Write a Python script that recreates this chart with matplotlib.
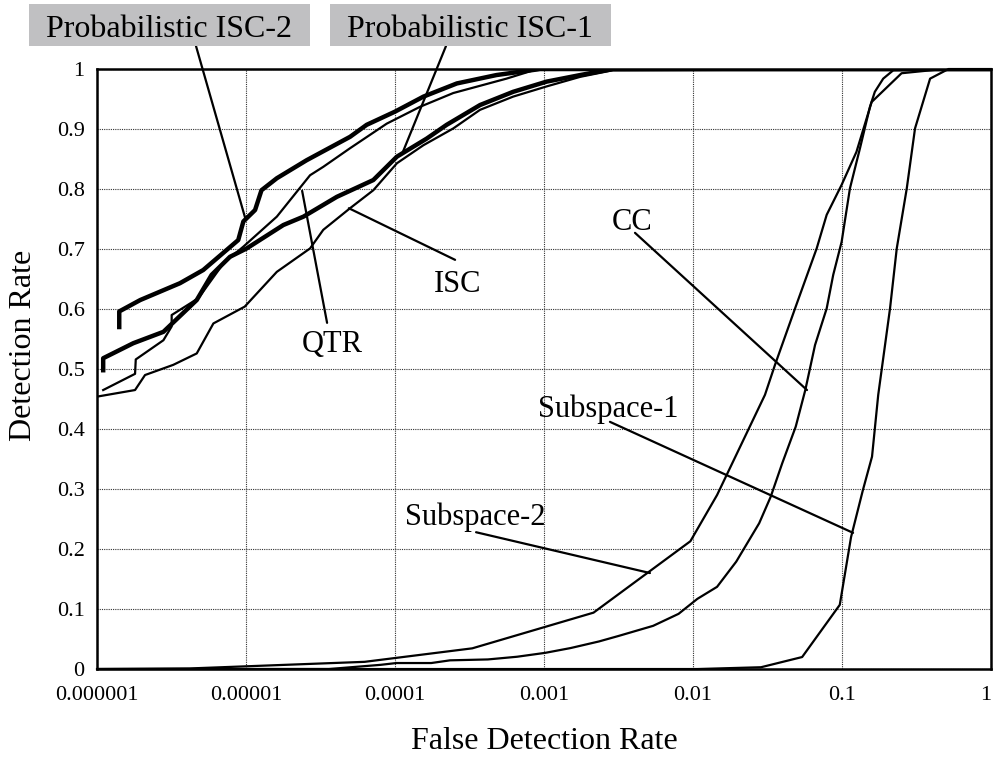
import matplotlib
matplotlib.use('Agg')
import matplotlib.pyplot as plt
from matplotlib.patches import Rectangle
from matplotlib.ticker import FixedLocator, FixedFormatter, NullLocator

plt.rcParams['font.family'] = ['Liberation Serif', 'DejaVu Serif']

# curves (false detection rate, detection rate)
prob_isc2_x = [1.41e-6, 1.41e-6, 1.95e-6, 3.6e-6, 5.16e-6, 8.87e-6, 9.6e-6, 1.15e-5, 1.27e-5,
               1.61e-5, 2.55e-5, 4.99e-5, 6.45e-5, 1.0e-4, 1.55e-4, 2.6e-4, 4.8e-4, 9.4e-4, 1.0]
prob_isc2_y = [0.570, 0.596, 0.615, 0.643, 0.665, 0.715, 0.746, 0.765, 0.798,
               0.818, 0.848, 0.887, 0.907, 0.929, 0.954, 0.976, 0.990, 1.0, 1.0]

qtr_x = [1.10e-6, 1.80e-6, 1.82e-6, 2.79e-6, 3.17e-6, 3.17e-6, 4.79e-6, 7.05e-6, 9.6e-6, 1.61e-5,
         2.69e-5, 3.30e-5, 4.99e-5, 8.8e-5, 1.47e-4, 2.46e-4, 5.6e-4, 8.5e-4, 1.15e-3, 1.0]
qtr_y = [0.465, 0.492, 0.516, 0.548, 0.571, 0.590, 0.618, 0.676, 0.704, 0.754,
         0.823, 0.837, 0.868, 0.909, 0.937, 0.960, 0.984, 0.998, 1.0, 1.0]

prob_isc1_x = [1.10e-6, 1.10e-6, 1.75e-6, 2.79e-6, 4.67e-6, 5.88e-6, 7.8e-6, 1.01e-5, 1.78e-5, 2.43e-5,
               4.07e-5, 7.15e-5, 1.03e-4, 1.63e-4, 2.22e-4, 3.72e-4, 6.2e-4, 1.04e-3, 1.75e-3, 2.9e-3, 1.0]
prob_isc1_y = [0.498, 0.518, 0.543, 0.562, 0.615, 0.657, 0.687, 0.701, 0.740, 0.754,
               0.787, 0.815, 0.854, 0.884, 0.907, 0.940, 0.962, 0.979, 0.990, 1.0, 1.0]

isc_x = [1.0e-6, 1.80e-6, 2.1e-6, 3.25e-6, 4.67e-6, 6.04e-6, 9.8e-6, 1.61e-5, 2.69e-5, 3.3e-5,
         4.99e-5, 7.15e-5, 1.03e-4, 1.55e-4, 2.46e-4, 3.72e-4, 6.2e-4, 1.04e-3, 1.75e-3, 2.9e-3, 1.0]
isc_y = [0.454, 0.465, 0.490, 0.507, 0.526, 0.576, 0.604, 0.662, 0.701, 0.732,
         0.768, 0.798, 0.843, 0.873, 0.901, 0.932, 0.954, 0.971, 0.987, 0.998, 1.0]

subspace2_x = [1e-6, 4.2e-6, 6.25e-5, 3.3e-4, 2.15e-3, 9.6e-3, 1.45e-2, 3.04e-2, 3.55e-2,
               4.84e-2, 6.76e-2, 7.89e-2, 9.94e-2, 0.125, 0.158, 0.251, 0.478, 1.0]
subspace2_y = [0.0, 0.001, 0.012, 0.0345, 0.094, 0.213, 0.29, 0.457, 0.507,
               0.601, 0.701, 0.757, 0.807, 0.862, 0.945, 0.993, 1.0, 1.0]

cc_x = [1e-6, 3.6e-5, 8e-5, 1.02e-4, 1.75e-4, 2.34e-4, 4.2e-4, 6.6e-4, 1.02e-3, 1.51e-3,
        2.34e-3, 3.15e-3, 5.4e-3, 8e-3, 1.07e-2, 1.45e-2, 1.95e-2, 2.78e-2, 3.32e-2, 3.97e-2,
        4.89e-2, 5.67e-2, 6.59e-2, 7.89e-2, 8.73e-2, 9.94e-2, 0.113, 0.132, 0.154, 0.166,
        0.189, 0.221, 1.0]
cc_y = [0.0, 0.0, 0.007, 0.010, 0.010, 0.0145, 0.016, 0.0205, 0.027, 0.035,
        0.046, 0.055, 0.072, 0.092, 0.117, 0.137, 0.179, 0.243, 0.287, 0.343,
        0.404, 0.465, 0.54, 0.601, 0.657, 0.712, 0.801, 0.868, 0.937, 0.962,
        0.984, 0.998, 1.0]

subspace1_x = [1e-6, 1.07e-2, 2.86e-2, 5.4e-2, 9.66e-2, 0.115, 0.138, 0.159, 0.175,
               0.21, 0.233, 0.272, 0.309, 0.39, 0.518, 1.0]
subspace1_y = [0.0, 0.0, 0.003, 0.020, 0.107, 0.22, 0.298, 0.354, 0.457,
               0.601, 0.701, 0.801, 0.901, 0.984, 1.0, 1.0]

x_ticks = [1e-6, 1e-5, 1e-4, 1e-3, 1e-2, 1e-1, 1]
x_tick_labels = ['0.000001', '0.00001', '0.0001', '0.001', '0.01', '0.1', '1']
y_ticks = [0, 0.1, 0.2, 0.3, 0.4, 0.5, 0.6, 0.7, 0.8, 0.9, 1]
y_tick_labels = ['0', '0.1', '0.2', '0.3', '0.4', '0.5', '0.6', '0.7', '0.8', '0.9', '1']

fig = plt.figure(figsize=(9.94, 7.62), dpi=100)
ax = fig.add_axes([0.0976, 0.1220, 0.8994, 0.7874])

thin = 1.6
thick = 3.2
ax.plot(isc_x, isc_y, color='black', lw=thin)
ax.plot(qtr_x, qtr_y, color='black', lw=thin)
ax.plot(prob_isc1_x, prob_isc1_y, color='black', lw=thick)
ax.plot(prob_isc2_x, prob_isc2_y, color='black', lw=thick)
ax.plot(subspace2_x, subspace2_y, color='black', lw=thin)
ax.plot(cc_x, cc_y, color='black', lw=thin)
ax.plot(subspace1_x, subspace1_y, color='black', lw=thin, clip_on=False)

ax.set_xscale('log')
ax.set_xlim(1e-6, 1)
ax.set_ylim(0, 1)
ax.xaxis.set_major_locator(FixedLocator(x_ticks))
ax.xaxis.set_major_formatter(FixedFormatter(x_tick_labels))
ax.xaxis.set_minor_locator(NullLocator())
ax.yaxis.set_major_locator(FixedLocator(y_ticks))
ax.yaxis.set_major_formatter(FixedFormatter(y_tick_labels))
ax.tick_params(length=0, labelsize=16)
ax.tick_params(axis='x', pad=12)
ax.tick_params(axis='y', pad=9)
# last label sits at the figure edge
ax.get_xticklabels()[-1].set_horizontalalignment('right')
ax.grid(True, color='#333333', lw=0.8, linestyle=(0, (1, 1)))
for s in ax.spines.values():
    s.set_linewidth(1.8)

ax.set_xlabel('False Detection Rate', fontsize=23, labelpad=16)
ax.set_ylabel('Detection Rate', fontsize=23)
ax.yaxis.set_label_coords(-0.066, 0.54)

# labels with pointer lines
lab = dict(fontsize=22, ha='center', va='baseline')
line = dict(arrowstyle='-', lw=1.6, color='black', shrinkA=0, shrinkB=0)

ax.text(3.9e-3, 0.732, 'CC', **lab)
ax.annotate('', xy=(0.0582, 0.465), xytext=(4.08e-3, 0.727), arrowprops=line)

ax.text(2.69e-3, 0.42, 'Subspace-1', **lab)
ax.annotate('', xy=(0.1186, 0.227), xytext=(2.77e-3, 0.412), arrowprops=line)

ax.text(3.44e-4, 0.24, 'Subspace-2', **lab)
ax.annotate('', xy=(5.14e-3, 0.16), xytext=(3.5e-4, 0.228), arrowprops=line)

ax.text(2.65e-4, 0.628, 'ISC', **lab)
ax.annotate('', xy=(4.9e-5, 0.768), xytext=(2.53e-4, 0.682), arrowprops=line)

ax.text(3.78e-5, 0.528, 'QTR', **lab)
ax.annotate('', xy=(2.38e-5, 0.797), xytext=(3.5e-5, 0.577), arrowprops=line)

# grey boxes on top
for bx in [29, 330]:
    fig.add_artist(Rectangle((bx / 994, 0.9396), 281 / 994, 42 / 762,
                             transform=fig.transFigure, facecolor='#c0c0c2',
                             edgecolor='none'))
fig.text(169 / 994, 0.9514, 'Probabilistic ISC-2', fontsize=23, ha='center', va='baseline')
fig.text(470 / 994, 0.9514, 'Probabilistic ISC-1', fontsize=23, ha='center', va='baseline')
ax.annotate('', xy=(9.84e-6, 0.753), xytext=(196 / 994, 0.9396),
            textcoords='figure fraction', arrowprops=line, annotation_clip=False)
ax.annotate('', xy=(1.13e-4, 0.862), xytext=(446 / 994, 0.9396),
            textcoords='figure fraction', arrowprops=line, annotation_clip=False)

fig.savefig('out.png', dpi=100)
